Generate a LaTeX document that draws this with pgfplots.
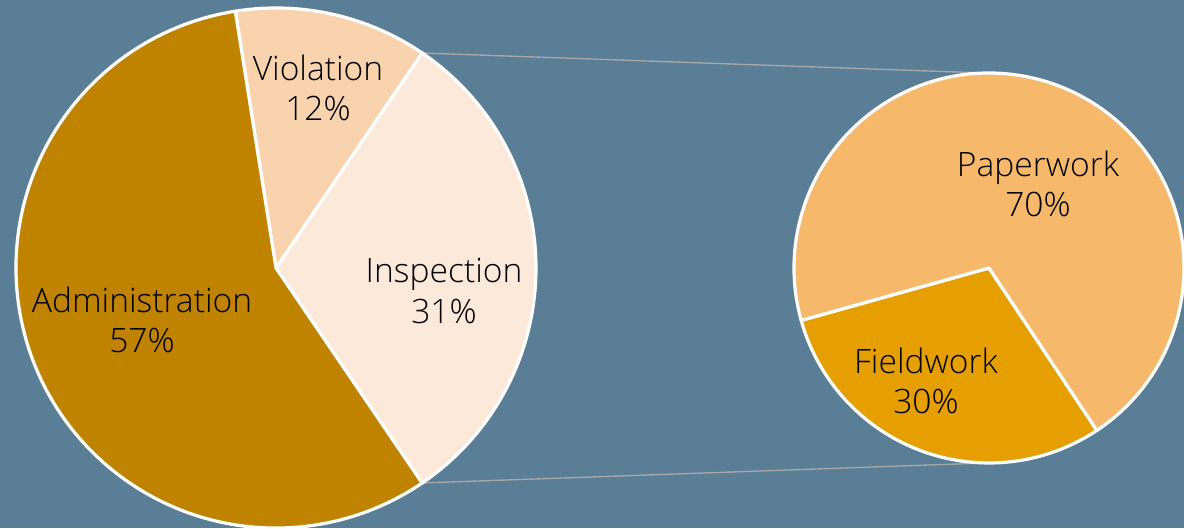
\documentclass[border=0pt]{standalone}
\usepackage{pgfplots}
\pgfplotsset{compat=1.18}
\usepackage{fontspec}
\setmainfont{Open Sans Light}
\definecolor{bg}{HTML}{5B7E97}
\definecolor{admin}{HTML}{C08300}
\definecolor{viol}{HTML}{F8D3AE}
\definecolor{insp}{HTML}{FCE9DA}
\definecolor{paper}{HTML}{F6B86B}
\definecolor{field}{HTML}{E69F00}
\definecolor{conn}{HTML}{A8A8A8}
% data (percent)
\def\vAdmin{57}\def\vViol{12}\def\vInsp{31}
\def\vPaper{70}\def\vField{30}
% angles
\pgfmathsetmacro{\aI}{-\vInsp*1.8}
\pgfmathsetmacro{\aIe}{\vInsp*1.8}
\pgfmathsetmacro{\aVe}{\aIe+\vViol*3.6}
\pgfmathsetmacro{\aAe}{\aVe+\vAdmin*3.6}
\pgfmathsetmacro{\aF}{195.6}
\pgfmathsetmacro{\aFe}{\aF+\vField*3.6}
\pgfmathsetmacro{\aPe}{\aFe+\vPaper*3.6}
\newcommand{\slice}[6]{%
  \fill[#6, draw=white, line width=2.4pt, line join=round]
   (axis cs:#1,#2) -- ++(#4:#3) arc[start angle=#4, end angle=#5, radius=#3] -- cycle;}
\begin{document}
\begin{tikzpicture}
\begin{axis}[
  width=888pt, height=396pt, scale only axis,
  xmin=0, xmax=1184, ymin=0, ymax=528,
  hide axis, clip=true,
]
\fill[bg] (axis cs:0,0) rectangle (axis cs:1184,528);
% connectors
\draw[conn, line width=1pt] (axis cs:422,475) -- (axis cs:985,455);
\draw[conn, line width=1pt] (axis cs:422,45) -- (axis cs:985,65);
% left pie
\slice{276}{260}{195pt}{\aI}{\aIe}{insp}
\slice{276}{260}{195pt}{\aIe}{\aVe}{viol}
\slice{276}{260}{195pt}{\aVe}{\aAe}{admin}
% right pie
\slice{989}{260}{146.25pt}{\aF}{\aFe}{field}
\slice{989}{260}{146.25pt}{\aFe}{\aPe}{paper}
% labels
\begin{scope}[every node/.style={align=center, text=black, font=\fontsize{25.2}{30.5}\selectfont}]
\node at (axis cs:318,440) {Violation\\12\%};
\node at (axis cs:444,237) {Inspection\\31\%};
\node at (axis cs:142,208) {Administration\\57\%};
\node at (axis cs:1038,344) {Paperwork\\70\%};
\node at (axis cs:926,147) {Fieldwork\\30\%};
\end{scope}
\end{axis}
\end{tikzpicture}
\end{document}
